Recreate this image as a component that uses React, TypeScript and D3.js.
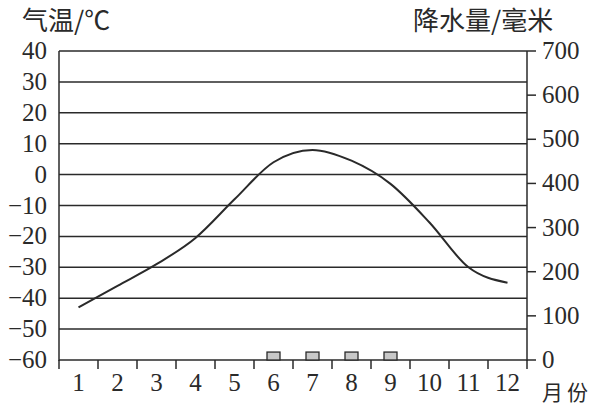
import React, { useEffect, useRef } from "react"
import * as d3 from "d3"

const months = ["1", "2", "3", "4", "5", "6", "7", "8", "9", "10", "11", "12"]
const temperature = [-43, -36, -29, -20.5, -8, 4, 8, 4.5, -3, -15.5, -30, -35]
const precipitation = [0, 0, 0, 0, 0, 18, 18, 18, 18, 0, 0, 0]
const tempTicks = [40, 30, 20, 10, 0, -10, -20, -30, -40, -50, -60]
const rainTicks = [700, 600, 500, 400, 300, 200, 100, 0]

const App = () => {
    const ref = useRef<SVGSVGElement>(null)

    useEffect(() => {
        if (!ref.current) return
        const svg = d3.select(ref.current)
        svg.selectAll("*").remove()

        const left = 59
        const right = 527
        const top = 51
        const bottom = 360
        const ink = "#2a2a2a"
        const numFont = "Liberation Serif, Times New Roman, DejaVu Serif, serif"
        const cjkFont = "Noto Sans CJK SC, sans-serif"

        const x = d3.scaleBand().domain(months).range([left, right]).padding(0)
        const yT = d3.scaleLinear().domain([-60, 40]).range([bottom, top])
        const yP = d3.scaleLinear().domain([0, 700]).range([bottom, top])

        // grid lines
        svg.append("g")
            .selectAll("line")
            .data(tempTicks)
            .enter()
            .append("line")
            .attr("x1", left)
            .attr("x2", right)
            .attr("y1", (d) => yT(d))
            .attr("y2", (d) => yT(d))
            .attr("stroke", ink)
            .attr("stroke-width", 1.5)

        // left axis line + labels
        svg.append("line")
            .attr("x1", left).attr("x2", left)
            .attr("y1", top).attr("y2", bottom + 1)
            .attr("stroke", ink).attr("stroke-width", 1.5)

        svg.append("g")
            .selectAll("text")
            .data(tempTicks)
            .enter()
            .append("text")
            .attr("x", 47)
            .attr("y", (d) => yT(d) + 8)
            .attr("text-anchor", "end")
            .style("font-family", numFont)
            .style("font-size", "25px")
            .attr("fill", ink)
            .text((d) => (d < 0 ? "\u2212" + Math.abs(d) : String(d)))

        // right axis
        svg.append("line")
            .attr("x1", right).attr("x2", right)
            .attr("y1", top).attr("y2", bottom + 1)
            .attr("stroke", ink).attr("stroke-width", 1.5)

        svg.append("g")
            .selectAll("line")
            .data(rainTicks)
            .enter()
            .append("line")
            .attr("x1", right)
            .attr("x2", right + 9)
            .attr("y1", (d) => yP(d))
            .attr("y2", (d) => yP(d))
            .attr("stroke", ink)
            .attr("stroke-width", 1.5)

        svg.append("g")
            .selectAll("text")
            .data(rainTicks)
            .enter()
            .append("text")
            .attr("x", 542)
            .attr("y", (d) => yP(d) + 8)
            .style("font-family", numFont)
            .style("font-size", "25px")
            .attr("fill", ink)
            .text((d) => d)

        // bottom ticks at month boundaries
        const bounds = months.map((m) => x(m) as number).concat([right])
        svg.append("g")
            .selectAll("line")
            .data(bounds)
            .enter()
            .append("line")
            .attr("x1", (d) => d)
            .attr("x2", (d) => d)
            .attr("y1", bottom)
            .attr("y2", bottom + 9)
            .attr("stroke", ink)
            .attr("stroke-width", 1.5)

        svg.append("g")
            .selectAll("text")
            .data(months)
            .enter()
            .append("text")
            .attr("x", (d) => (x(d) as number) + x.bandwidth() / 2)
            .attr("y", 391)
            .attr("text-anchor", "middle")
            .style("font-family", numFont)
            .style("font-size", "25px")
            .attr("fill", ink)
            .text((d) => d)

        // precipitation bars
        const bw = 13
        svg.append("g")
            .selectAll("rect")
            .data(precipitation.map((v, i) => ({ m: months[i], v })).filter((d) => d.v > 0))
            .enter()
            .append("rect")
            .attr("x", (d) => (x(d.m) as number) + x.bandwidth() / 2 - bw / 2)
            .attr("y", (d) => yP(d.v))
            .attr("width", bw)
            .attr("height", (d) => bottom - yP(d.v))
            .attr("fill", "#c8c8c8")
            .attr("stroke", ink)
            .attr("stroke-width", 1.3)

        // temperature curve
        const line = d3
            .line<number>()
            .x((_, i) => (x(months[i]) as number) + x.bandwidth() / 2)
            .y((d) => yT(d))
            .curve(d3.curveMonotoneX)

        svg.append("path")
            .datum(temperature)
            .attr("d", line)
            .attr("fill", "none")
            .attr("stroke", ink)
            .attr("stroke-width", 2)

        // titles
        svg.append("text")
            .attr("x", 22).attr("y", 30)
            .style("font-family", cjkFont)
            .style("font-size", "26px")
            .attr("fill", ink)
            .text("气温/℃")

        svg.append("text")
            .attr("x", 413).attr("y", 30)
            .style("font-family", cjkFont)
            .style("font-size", "26px")
            .attr("fill", ink)
            .text("降水量/毫米")

        svg.append("text")
            .attr("x", 542).attr("y", 400)
            .style("font-family", cjkFont)
            .style("font-size", "21px")
            .style("letter-spacing", "4px")
            .attr("fill", ink)
            .text("月份")
    }, [])

    return (
        <svg
            ref={ref}
            width={598}
            height={408}
            style={{ position: "absolute", left: 0, top: 0, background: "#fff" }}
        />
    )
}

export default App
